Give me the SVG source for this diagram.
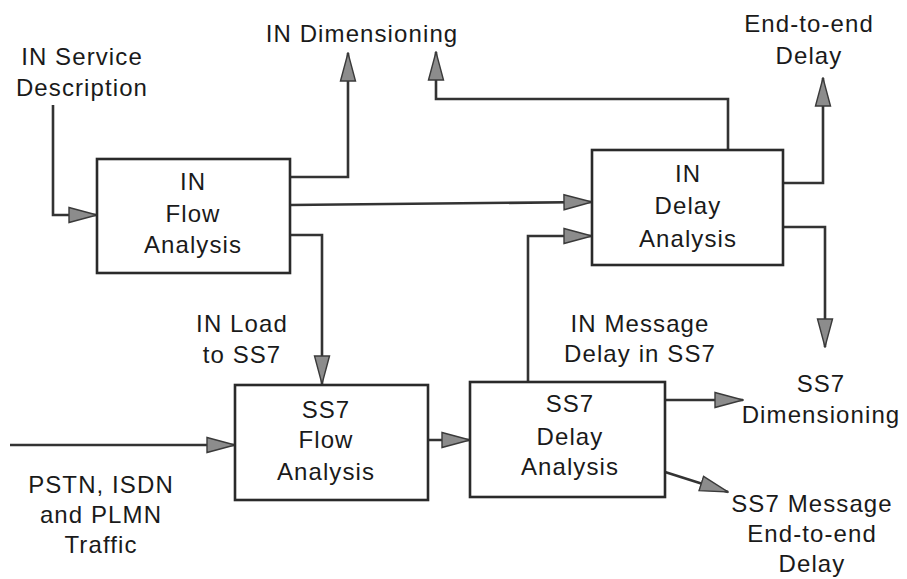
<svg xmlns="http://www.w3.org/2000/svg" width="907" height="579" viewBox="0 0 907 579">
  <style>
    .box { fill: #ffffff; stroke: #2a2a2a; stroke-width: 2.6; }
    .lbl { font-family: "Liberation Sans", Arial, sans-serif; font-size: 24px; letter-spacing: 1.1px; fill: #1a1a1a; text-anchor: middle; }
    .wire { fill: none; stroke: #333333; stroke-width: 2.6; marker-end: url(#arr); }
  </style>
  <defs>
    <marker id="arr" viewBox="0 0 30 18" markerWidth="30" markerHeight="18" refX="29" refY="9" orient="auto" markerUnits="userSpaceOnUse">
      <path d="M1,1.5 L29,9 L1,16.5 z" fill="#8c8c8c" stroke="#3a3a3a" stroke-width="1.4"/>
    </marker>
  </defs>

  <rect width="907" height="579" fill="#ffffff"/>

  <!-- connectors -->
  <g id="connectors">
    <path class="wire" d="M53,105 V215 H97"/>
    <path class="wire" d="M290,177 H348 V53"/>
    <path class="wire" d="M290,205 L592,202"/>
    <path class="wire" d="M290,235 H322 V384"/>
    <path class="wire" d="M728,150 V99 H436 V52"/>
    <path class="wire" d="M783,183 H823 V78"/>
    <path class="wire" d="M783,227 H825 V347"/>
    <path class="wire" d="M528,382 V236 H592"/>
    <path class="wire" d="M10,445 H235"/>
    <path class="wire" d="M428,440 H470"/>
    <path class="wire" d="M665,400 H743"/>
    <path class="wire" d="M665,472 L728,492"/>
  </g>

  <!-- processing blocks -->
  <g id="in-flow">
    <rect class="box" x="97" y="159" width="193" height="114"/>
    <text class="lbl" x="193" y="190">IN</text>
    <text class="lbl" x="193" y="222">Flow</text>
    <text class="lbl" x="193" y="253">Analysis</text>
  </g>
  <g id="in-delay">
    <rect class="box" x="592" y="150" width="191" height="115"/>
    <text class="lbl" x="688" y="182">IN</text>
    <text class="lbl" x="688" y="214">Delay</text>
    <text class="lbl" x="688" y="247">Analysis</text>
  </g>
  <g id="ss7-flow">
    <rect class="box" x="235" y="385" width="193" height="115"/>
    <text class="lbl" x="326" y="418">SS7</text>
    <text class="lbl" x="326" y="448">Flow</text>
    <text class="lbl" x="326" y="480">Analysis</text>
  </g>
  <g id="ss7-delay">
    <rect class="box" x="470" y="382" width="195" height="115"/>
    <text class="lbl" x="570" y="412">SS7</text>
    <text class="lbl" x="570" y="445">Delay</text>
    <text class="lbl" x="570" y="475">Analysis</text>
  </g>

  <!-- inputs and outputs -->
  <g id="in-service">
    <text class="lbl" x="82" y="65">IN Service</text>
    <text class="lbl" x="82" y="96">Description</text>
  </g>
  <g id="in-dimensioning">
    <text class="lbl" x="362" y="42">IN Dimensioning</text>
  </g>
  <g id="end-to-end">
    <text class="lbl" x="809" y="32">End-to-end</text>
    <text class="lbl" x="809" y="64">Delay</text>
  </g>
  <g id="in-load">
    <text class="lbl" x="242" y="332">IN Load</text>
    <text class="lbl" x="242" y="363">to SS7</text>
  </g>
  <g id="in-msg-delay">
    <text class="lbl" x="640" y="332">IN Message</text>
    <text class="lbl" x="640" y="362">Delay in SS7</text>
  </g>
  <g id="ss7-dimensioning">
    <text class="lbl" x="821" y="392">SS7</text>
    <text class="lbl" x="821" y="423">Dimensioning</text>
  </g>
  <g id="traffic">
    <text class="lbl" x="101" y="493">PSTN, ISDN</text>
    <text class="lbl" x="101" y="523">and PLMN</text>
    <text class="lbl" x="101" y="553">Traffic</text>
  </g>
  <g id="ss7-msg">
    <text class="lbl" x="812" y="512">SS7 Message</text>
    <text class="lbl" x="812" y="542">End-to-end</text>
    <text class="lbl" x="812" y="572">Delay</text>
  </g>
</svg>
